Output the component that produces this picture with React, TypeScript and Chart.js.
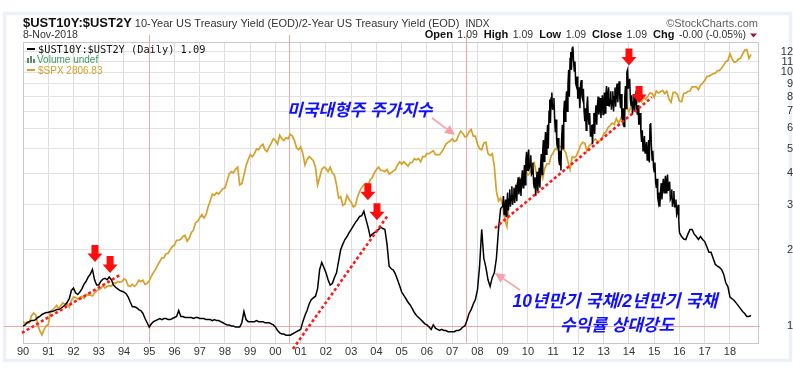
import React, { useEffect, useRef } from "react";
import { Chart, registerables } from "chart.js";

Chart.register(...registerables);

// ---------------- DATA ----------------
const START_YEAR = 1990; // first monthly value = Jan 1990, one value per month
const yearTicks = [
  1990, 1991, 1992, 1993, 1994, 1995, 1996, 1997, 1998, 1999,
  2000, 2001, 2002, 2003, 2004, 2005, 2006, 2007, 2008, 2009,
  2010, 2011, 2012, 2013, 2014, 2015, 2016, 2017, 2018,
];
const ratioTicks = [1, 2, 3, 4, 5, 6, 7, 8, 9, 10, 11, 12];

// $UST10Y:$UST2Y, monthly (Jan 1990 .. Nov 2018)
const ratioValues = [
  1.00, 1.01, 1.03, 1.04, 1.05, 1.05, 1.06, 1.08, 1.09, 1.11, 1.12, 1.13, // 1990
  1.13, 1.14, 1.14, 1.15, 1.16, 1.16, 1.17, 1.19, 1.21, 1.24, 1.28, 1.38, // 1991
  1.41, 1.35, 1.33, 1.36, 1.40, 1.46, 1.50, 1.56, 1.60, 1.67, 1.52, 1.45, // 1992
  1.45, 1.50, 1.53, 1.54, 1.52, 1.56, 1.52, 1.45, 1.42, 1.40, 1.38, 1.37, // 1993
  1.36, 1.34, 1.30, 1.24, 1.19, 1.19, 1.18, 1.16, 1.15, 1.12, 1.07, 1.03, // 1994
  0.99, 1.02, 1.04, 1.05, 1.06, 1.07, 1.06, 1.07, 1.07, 1.06, 1.06, 1.07, // 1995
  1.08, 1.09, 1.15, 1.09, 1.09, 1.08, 1.08, 1.08, 1.08, 1.07, 1.08, 1.08, // 1996
  1.07, 1.07, 1.07, 1.06, 1.06, 1.06, 1.05, 1.06, 1.05, 1.05, 1.04, 1.03, // 1997
  1.02, 1.01, 1.01, 1.00, 1.00, 0.99, 0.99, 0.99, 1.03, 1.14, 1.06, 1.04, // 1998
  1.04, 1.04, 1.04, 1.05, 1.04, 1.04, 1.04, 1.03, 1.03, 1.03, 1.02, 1.01, // 1999
  0.99, 0.96, 0.94, 0.93, 0.93, 0.92, 0.92, 0.92, 0.93, 0.94, 0.95, 0.96, // 2000
  0.97, 1.04, 1.10, 1.15, 1.22, 1.27, 1.29, 1.31, 1.40, 1.67, 1.78, 1.70, // 2001
  1.62, 1.52, 1.45, 1.47, 1.55, 1.62, 1.80, 2.00, 2.10, 2.19, 2.25, 2.33, // 2002
  2.40, 2.48, 2.56, 2.62, 2.70, 2.72, 2.83, 2.63, 2.45, 2.25, 2.30, 2.33, // 2003
  2.36, 2.40, 2.45, 2.42, 2.40, 2.10, 1.72, 1.68, 1.66, 1.60, 1.52, 1.44, // 2004
  1.36, 1.32, 1.28, 1.24, 1.21, 1.17, 1.13, 1.10, 1.08, 1.06, 1.04, 1.02, // 2005
  1.01, 0.99, 0.97, 1.01, 0.98, 0.97, 0.96, 0.97, 0.96, 0.96, 0.95, 0.95, // 2006
  0.95, 0.95, 0.96, 0.96, 0.97, 0.99, 1.00, 1.05, 1.12, 1.16, 1.22, 1.27, // 2007
  1.39, 1.72, 2.40, 1.85, 1.70, 1.52, 1.43, 1.55, 1.62, 1.85, 2.40, 2.90, // 2008
  2.96, 2.89, 3.05, 3.16, 3.25, 3.25, 3.35, 3.56, 3.50, 3.79, 3.90, 4.50, // 2009
  4.60, 4.30, 4.00, 3.50, 3.70, 3.80, 4.30, 4.90, 5.20, 5.50, 7.00, 7.90, // 2010
  7.40, 5.80, 5.00, 4.30, 5.50, 7.00, 7.60, 8.90, 11.3, 12.4, 10.1, 8.80, // 2011
  7.90, 8.90, 7.80, 6.40, 7.40, 6.20, 5.60, 6.20, 6.75, 7.40, 7.20, 7.40, // 2012
  7.60, 8.10, 8.00, 7.80, 7.70, 8.00, 8.30, 8.60, 7.20, 6.40, 8.00, 10.0, // 2013
  8.60, 7.40, 7.60, 7.90, 6.80, 6.40, 5.30, 5.20, 4.90, 4.80, 6.20, 4.50, // 2014
  4.05, 3.50, 3.07, 3.40, 3.56, 3.60, 3.69, 3.40, 3.20, 3.16, 2.95, 2.81, // 2015
  2.33, 2.25, 2.20, 2.19, 2.30, 2.40, 2.40, 2.30, 2.25, 2.19, 2.25, 2.19, // 2016
  2.15, 2.05, 1.95, 1.95, 1.85, 1.75, 1.72, 1.70, 1.67, 1.60, 1.48, 1.43, // 2017
  1.30, 1.28, 1.26, 1.23, 1.20, 1.17, 1.14, 1.12, 1.09, 1.09, 1.10,       // 2018
];

// intra-month swing range of the daily ratio line in its most volatile years (Jan 2009 .. Dec 2015)
const BAND_START_YEAR = 2009;
const ratioMonthHigh = [
  3.25, 3.15, 3.35, 3.45, 3.55, 3.50, 3.60, 3.85, 3.80, 4.10, 4.30, 4.85, // 2009
  4.95, 4.70, 4.40, 3.85, 4.05, 4.20, 4.75, 5.40, 5.80, 6.20, 7.80, 8.30, // 2010
  7.90, 6.50, 5.50, 4.90, 6.20, 7.70, 8.40, 10.2, 12.0, 12.6, 11.0, 9.60, // 2011
  8.70, 9.30, 8.60, 7.20, 8.00, 6.90, 6.20, 6.90, 7.40, 8.00, 7.90, 8.10, // 2012
  8.30, 8.80, 8.70, 8.40, 8.40, 8.70, 9.00, 9.20, 8.20, 7.20, 8.80, 10.2, // 2013
  9.40, 8.10, 8.20, 8.40, 7.40, 6.90, 5.90, 5.60, 5.30, 5.40, 6.30, 4.90, // 2014
  4.40, 3.80, 3.35, 3.65, 3.80, 3.90, 3.95, 3.70, 3.45, 3.40, 3.15, 3.00, // 2015
];
const ratioMonthLow = [
  2.75, 2.70, 2.85, 2.95, 3.00, 3.05, 3.10, 3.30, 3.25, 3.50, 3.60, 4.10, // 2009
  4.20, 3.95, 3.65, 3.25, 3.40, 3.50, 3.95, 4.45, 4.75, 5.00, 6.30, 7.10, // 2010
  6.60, 5.30, 4.50, 4.10, 5.00, 6.40, 7.00, 8.00, 10.2, 11.0, 9.00, 7.90, // 2011
  7.20, 8.00, 7.00, 5.90, 6.60, 5.60, 5.20, 5.70, 6.20, 6.80, 6.60, 6.80, // 2012
  6.90, 7.40, 7.30, 7.10, 7.00, 7.30, 7.60, 7.80, 6.60, 6.10, 7.20, 8.60, // 2013
  7.80, 6.80, 7.00, 7.20, 6.20, 5.80, 4.90, 4.80, 4.50, 4.40, 5.10, 4.20, // 2014
  3.70, 3.20, 2.95, 3.15, 3.35, 3.35, 3.40, 3.15, 2.95, 2.95, 2.75, 2.60, // 2015
];

// $SPX, monthly (Jan 1990 .. Nov 2018)
const spxValues = [
  340, 332, 338, 335, 355, 362, 358, 330, 315, 305, 318, 328, // 1990
  330, 365, 372, 378, 385, 375, 385, 393, 388, 390, 380, 400, // 1991
  412, 410, 405, 410, 414, 408, 420, 418, 418, 415, 425, 433, // 1992
  436, 440, 450, 442, 448, 450, 448, 460, 458, 465, 462, 465, // 1993
  475, 470, 450, 448, 455, 448, 455, 470, 465, 470, 455, 459, // 1994
  468, 485, 500, 512, 530, 545, 560, 562, 580, 582, 600, 615, // 1995
  620, 645, 645, 650, 665, 670, 640, 655, 685, 700, 740, 750, // 1996
  770, 790, 770, 790, 840, 880, 930, 920, 940, 930, 950, 970, // 1997
  975, 1030, 1090, 1110, 1100, 1130, 1150, 1000, 1010, 1080, 1160, 1220, // 1998
  1270, 1250, 1280, 1330, 1320, 1360, 1380, 1320, 1300, 1350, 1390, 1440, // 1999
  1420, 1380, 1480, 1440, 1420, 1450, 1440, 1490, 1470, 1420, 1340, 1320, // 2000
  1350, 1280, 1170, 1220, 1250, 1230, 1210, 1150, 1000, 1060, 1130, 1150, // 2001
  1140, 1110, 1150, 1100, 1080, 1000, 900, 910, 850, 860, 920, 890,       // 2002
  870, 840, 850, 910, 950, 980, 1000, 1010, 1000, 1040, 1060, 1100,       // 2003
  1130, 1150, 1120, 1120, 1110, 1130, 1090, 1100, 1115, 1130, 1170, 1200, // 2004
  1180, 1200, 1180, 1160, 1190, 1195, 1230, 1220, 1230, 1200, 1250, 1250, // 2005
  1280, 1280, 1295, 1310, 1270, 1270, 1270, 1300, 1335, 1380, 1400, 1415, // 2006
  1440, 1410, 1420, 1480, 1530, 1505, 1460, 1470, 1520, 1550, 1470, 1470, // 2007
  1380, 1330, 1320, 1390, 1400, 1280, 1260, 1280, 1160, 950, 880, 900,    // 2008
  850, 760, 720, 870, 920, 920, 980, 1020, 1060, 1040, 1100, 1115,        // 2009
  1080, 1100, 1170, 1190, 1090, 1030, 1100, 1050, 1140, 1180, 1180, 1257, // 2010
  1290, 1330, 1320, 1360, 1340, 1320, 1290, 1200, 1130, 1250, 1240, 1257, // 2011
  1310, 1370, 1400, 1390, 1310, 1360, 1380, 1410, 1440, 1410, 1415, 1426, // 2012
  1500, 1515, 1570, 1600, 1630, 1610, 1690, 1630, 1680, 1760, 1800, 1848, // 2013
  1780, 1860, 1870, 1880, 1925, 1960, 1930, 2000, 1970, 2018, 2070, 2059, // 2014
  2000, 2100, 2070, 2090, 2110, 2060, 2100, 1970, 1920, 2080, 2080, 2044, // 2015
  1940, 1930, 2060, 2065, 2095, 2100, 2170, 2170, 2170, 2125, 2200, 2239, // 2016
  2280, 2360, 2360, 2385, 2410, 2420, 2470, 2470, 2520, 2575, 2650, 2674, // 2017
  2820, 2710, 2640, 2650, 2705, 2720, 2815, 2900, 2915, 2720, 2806,       // 2018
];

// red dashed trend lines (year, ratio) pairs
const trend1Years = [1989.96, 1993.84];
const trend1Ratios = [0.939, 1.587];
const trend2Years = [2000.69, 2004.46];
const trend2Ratios = [0.812, 2.735];
const trend3Years = [2008.69, 2014.91];
const trend3Ratios = [2.43, 7.96];

// red down arrows (tip) in (year, ratio)
const arrowYears = [1992.85, 1993.45, 2003.66, 2004.02, 2014.0, 2014.4];
const arrowRatios = [1.786, 1.617, 3.13, 2.61, 10.6, 7.56];

// red marker lines
const redVerticalYears = [1995.0, 2000.55, 2007.55];
const redHorizontalRatio = 1;

// pink pointer arrows
const spxPointerYears = [2006.2, 2007.11];
const spxPointerValues = [1697, 1484];
const ratioPointerYears = [2009.68, 2008.69];
const ratioPointerValues = [1.386, 1.617];

// texts
const titleText = "$UST10Y:$UST2Y";
const subtitleText = "10-Year US Treasury Yield (EOD)/2-Year US Treasury Yield (EOD)";
const exchangeText = "INDX";
const dateText = "8-Nov-2018";
const brandText = "\u00A9StockCharts.com";
const quoteLabels = ["Open", "High", "Low", "Close", "Chg"];
const quoteValues = ["1.09", "1.09", "1.09", "1.09", "-0.00 (-0.05%)"];
const legendRatio = "$UST10Y:$UST2Y (Daily) 1.09";
const legendVolume = "Volume undef";
const legendSpx = "$SPX 2806.83";
const spxNote = "미국대형주 주가지수";
const ratioNote1 = "10년만기 국채/2년만기 국채";
const ratioNote2 = "수익률 상대강도";

// ---------------- STYLE ----------------
const SANS = "'Liberation Sans', Arial, sans-serif";
const BLACK = "#000000";
const GOLD = "#d6a12b";
const RED = "#ff1a1a";
const MARKER_LINE = "#f3a6a6";
const BLUE = "#1010ff";

function monthly(values: number[]) {
  return values.map((v, i) => ({ x: START_YEAR + i / 12, y: v }));
}
function ratioSeries() {
  const pts: { x: number; y: number }[] = [];
  const bandOffset = (BAND_START_YEAR - START_YEAR) * 12;
  ratioValues.forEach((v, i) => {
    const t = START_YEAR + i / 12;
    pts.push({ x: t, y: v });
    const b = i - bandOffset;
    if (b >= 0 && b < ratioMonthHigh.length) {
      pts.push({ x: t + 1 / 36, y: ratioMonthHigh[b] });
      pts.push({ x: t + 2 / 36, y: ratioMonthLow[b] });
    }
  });
  return pts;
}
function pairs(xs: number[], ys: number[]) {
  return xs.map((x, i) => ({ x, y: ys[i] }));
}

function blockArrow(ctx: CanvasRenderingContext2D, x: number, y: number) {
  ctx.beginPath();
  ctx.moveTo(x - 3.5, y - 17);
  ctx.lineTo(x + 3.5, y - 17);
  ctx.lineTo(x + 3.5, y - 8.5);
  ctx.lineTo(x + 7.5, y - 8.5);
  ctx.lineTo(x, y);
  ctx.lineTo(x - 7.5, y - 8.5);
  ctx.lineTo(x - 3.5, y - 8.5);
  ctx.closePath();
  ctx.fill();
}

function pointer(ctx: CanvasRenderingContext2D, x0: number, y0: number, x1: number, y1: number) {
  const ang = Math.atan2(y1 - y0, x1 - x0);
  const len = 10;
  const hw = 5;
  const bx = x1 - Math.cos(ang) * len;
  const by = y1 - Math.sin(ang) * len;
  ctx.strokeStyle = "#f6a2a8";
  ctx.fillStyle = "#f6a2a8";
  ctx.lineWidth = 1.6;
  ctx.beginPath();
  ctx.moveTo(x0, y0);
  ctx.lineTo(bx, by);
  ctx.stroke();
  ctx.beginPath();
  ctx.moveTo(x1, y1);
  ctx.lineTo(bx + Math.sin(ang) * hw, by - Math.cos(ang) * hw);
  ctx.lineTo(bx - Math.sin(ang) * hw, by + Math.cos(ang) * hw);
  ctx.closePath();
  ctx.fill();
}

const annotationPlugin = {
  id: "stockchartsAnnotations",
  beforeDraw(chart: any) {
    const ctx: CanvasRenderingContext2D = chart.ctx;
    ctx.save();
    ctx.fillStyle = "#ffffff";
    ctx.fillRect(0, 0, chart.width, chart.height);
    ctx.strokeStyle = "#edf1f5";
    ctx.lineWidth = 3.5;
    ctx.strokeRect(4.5, 13.5, 786, 347);
    ctx.restore();
  },
  beforeDatasetsDraw(chart: any) {
    const ctx: CanvasRenderingContext2D = chart.ctx;
    const { x, y } = chart.scales;
    const area = chart.chartArea;
    ctx.save();
    // plot frame (top + left)
    ctx.strokeStyle = "#c9c9c9";
    ctx.lineWidth = 1;
    ctx.beginPath();
    ctx.moveTo(area.left + 0.5, area.bottom);
    ctx.lineTo(area.left + 0.5, area.top + 0.5);
    ctx.lineTo(area.right, area.top + 0.5);
    ctx.stroke();
    // red marker lines
    ctx.strokeStyle = MARKER_LINE;
    ctx.lineWidth = 1;
    redVerticalYears.forEach((yr) => {
      const px = Math.round(x.getPixelForValue(yr)) + 0.5;
      ctx.beginPath();
      ctx.moveTo(px, 35);
      ctx.lineTo(px, area.bottom);
      ctx.stroke();
    });
    const py = Math.round(y.getPixelForValue(redHorizontalRatio)) + 0.5;
    ctx.beginPath();
    ctx.moveTo(4, py);
    ctx.lineTo(area.right + 2, py);
    ctx.stroke();
    ctx.restore();
  },
  afterDraw(chart: any) {
    const ctx: CanvasRenderingContext2D = chart.ctx;
    const { x, y, y2 } = chart.scales;
    const area = chart.chartArea;
    ctx.save();

    // red block arrows
    ctx.fillStyle = "#ff0d0d";
    arrowYears.forEach((yr, i) => {
      blockArrow(ctx, x.getPixelForValue(yr), y.getPixelForValue(arrowRatios[i]));
    });

    // pink pointers
    pointer(
      ctx,
      x.getPixelForValue(spxPointerYears[0]), y2.getPixelForValue(spxPointerValues[0]),
      x.getPixelForValue(spxPointerYears[1]), y2.getPixelForValue(spxPointerValues[1])
    );
    pointer(
      ctx,
      x.getPixelForValue(ratioPointerYears[0]), y.getPixelForValue(ratioPointerValues[0]),
      x.getPixelForValue(ratioPointerYears[1]), y.getPixelForValue(ratioPointerValues[1])
    );

    // korean notes
    ctx.fillStyle = BLUE;
    ctx.textBaseline = "alphabetic";
    ctx.font = "italic bold 17px 'Liberation Sans', 'Noto Sans CJK KR'";
    ctx.textAlign = "left";
    ctx.fillText(spxNote, 287, 116);
    ctx.textAlign = "center";
    ctx.font = "italic bold 17.5px 'Liberation Sans', 'Noto Sans CJK KR'";
    ctx.fillText(ratioNote1, 615, 307);
    ctx.font = "italic bold 17px 'Liberation Sans', 'Noto Sans CJK KR'";
    ctx.fillText(ratioNote2, 617, 331);

    // header
    ctx.textAlign = "left";
    ctx.fillStyle = "#111";
    ctx.font = `bold 13px ${SANS}`;
    ctx.fillText(titleText, 23, 27);
    let cx = 23 + ctx.measureText(titleText).width + 3;
    ctx.fillStyle = "#333";
    ctx.font = `11px ${SANS}`;
    ctx.fillText(subtitleText, cx, 27);
    cx += ctx.measureText(subtitleText).width + 6;
    ctx.font = `10px ${SANS}`;
    ctx.fillText(exchangeText, cx, 27);
    ctx.font = `10.5px ${SANS}`;
    ctx.fillText(dateText, 23, 38);

    ctx.textAlign = "right";
    ctx.fillStyle = "#5e5e5e";
    ctx.font = `11px ${SANS}`;
    ctx.fillText(brandText, 758, 27);

    // quote line, right aligned at 758
    const labelFont = `bold 11px ${SANS}`;
    const valueFont = `10.5px ${SANS}`;
    let total = 0;
    quoteLabels.forEach((lab, i) => {
      ctx.font = labelFont;
      total += ctx.measureText(lab).width + 4.5;
      ctx.font = valueFont;
      total += ctx.measureText(quoteValues[i]).width + 6;
    });
    total += 6;
    ctx.textAlign = "left";
    let qx = 758 - total;
    quoteLabels.forEach((lab, i) => {
      ctx.fillStyle = "#111";
      ctx.font = labelFont;
      ctx.fillText(lab, qx, 38);
      qx += ctx.measureText(lab).width + 4.5;
      ctx.fillStyle = "#333";
      ctx.font = valueFont;
      ctx.fillText(quoteValues[i], qx, 38);
      qx += ctx.measureText(quoteValues[i]).width + 6;
    });
    ctx.fillStyle = "#a3123e";
    ctx.beginPath();
    ctx.moveTo(qx - 2, 33.5);
    ctx.lineTo(qx + 5, 33.5);
    ctx.lineTo(qx + 1.5, 37.5);
    ctx.closePath();
    ctx.fill();

    // legend inside plot
    const lx = area.left + 4;
    ctx.fillStyle = BLACK;
    ctx.fillRect(lx, 48, 8, 2);
    ctx.font = "10.3px 'DejaVu Sans Mono', monospace";
    ctx.fillStyle = "#111";
    ctx.fillText(legendRatio, lx + 11, 53);

    ctx.fillStyle = "#5f8c6e";
    ctx.fillRect(lx, 58, 2, 5);
    ctx.fillRect(lx + 3, 56, 2, 7);
    ctx.fillRect(lx + 6, 59, 2, 4);
    ctx.fillStyle = "#3f9a62";
    ctx.font = `10px ${SANS}`;
    ctx.fillText(legendVolume, lx + 10, 63);

    ctx.fillStyle = GOLD;
    ctx.fillRect(lx, 69, 8, 2);
    ctx.fillText(legendSpx, lx + 11, 74);

    ctx.restore();
  },
};

export default function App() {
  const canvasRef = useRef<HTMLCanvasElement | null>(null);

  useEffect(() => {
    const canvas = canvasRef.current;
    if (!canvas) return;
    Chart.defaults.font.family = SANS;

    const trendStyle = {
      borderColor: RED,
      borderWidth: 2.6,
      borderDash: [3, 2.5],
      pointRadius: 0,
      fill: false,
      clip: false as any,
      yAxisID: "y",
      order: 0,
    };

    const chart = new Chart(canvas, {
      type: "line",
      data: {
        datasets: [
          { ...trendStyle, data: pairs(trend1Years, trend1Ratios) },
          { ...trendStyle, data: pairs(trend2Years, trend2Ratios) },
          { ...trendStyle, data: pairs(trend3Years, trend3Ratios) },
          {
            data: ratioSeries(),
            borderColor: BLACK,
            borderWidth: 1.5,
            pointRadius: 0,
            tension: 0,
            yAxisID: "y",
            order: 1,
          },
          {
            data: monthly(spxValues),
            borderColor: GOLD,
            borderWidth: 1.7,
            pointRadius: 0,
            tension: 0,
            yAxisID: "y2",
            order: 2,
          },
        ] as any,
      },
      options: {
        responsive: false,
        animation: false,
        devicePixelRatio: 1,
        events: [],
        layout: { padding: { left: 23, top: 42, right: 0, bottom: 0 } },
        plugins: { legend: { display: false }, tooltip: { enabled: false } },
        scales: {
          x: {
            type: "linear",
            min: 1990,
            max: 2019.11,
            afterBuildTicks: (s: any) => {
              s.ticks = yearTicks.map((v) => ({ value: v }));
            },
            afterFit: (s: any) => {
              s.height = 27;
            },
            ticks: {
              autoSkip: false,
              maxRotation: 0,
              padding: 2,
              color: "#333",
              font: { size: 11, family: SANS },
              callback: (v: any) => String(Number(v) % 100).padStart(2, "0"),
            },
            grid: { color: "#dedede", drawTicks: false },
            border: { color: "#c9c9c9" },
          },
          y: {
            type: "logarithmic",
            position: "right",
            min: 0.857,
            max: 13.13,
            afterBuildTicks: (s: any) => {
              s.ticks = ratioTicks.map((v) => ({ value: v }));
            },
            afterFit: (s: any) => {
              s.width = 35;
            },
            ticks: {
              autoSkip: false,
              crossAlign: "far",
              padding: 3,
              color: "#333",
              font: { size: 11, family: SANS },
              callback: (v: any) => String(v),
            },
            grid: {
              drawTicks: false,
              color: (c: any) => (c.tick && c.tick.value === 1 ? "rgba(0,0,0,0)" : "#e2e2e2"),
            },
            border: { color: "#c9c9c9" },
          },
          y2: {
            type: "logarithmic",
            display: false,
            min: 286,
            max: 3097,
          },
        },
      } as any,
      plugins: [annotationPlugin],
    });

    return () => chart.destroy();
  }, []);

  return (
    <div style={{ position: "absolute", left: 0, top: 0, width: 793, height: 370, background: "#fff" }}>
      <canvas ref={canvasRef} width={793} height={370} style={{ display: "block", width: 793, height: 370 }} />
    </div>
  );
}
